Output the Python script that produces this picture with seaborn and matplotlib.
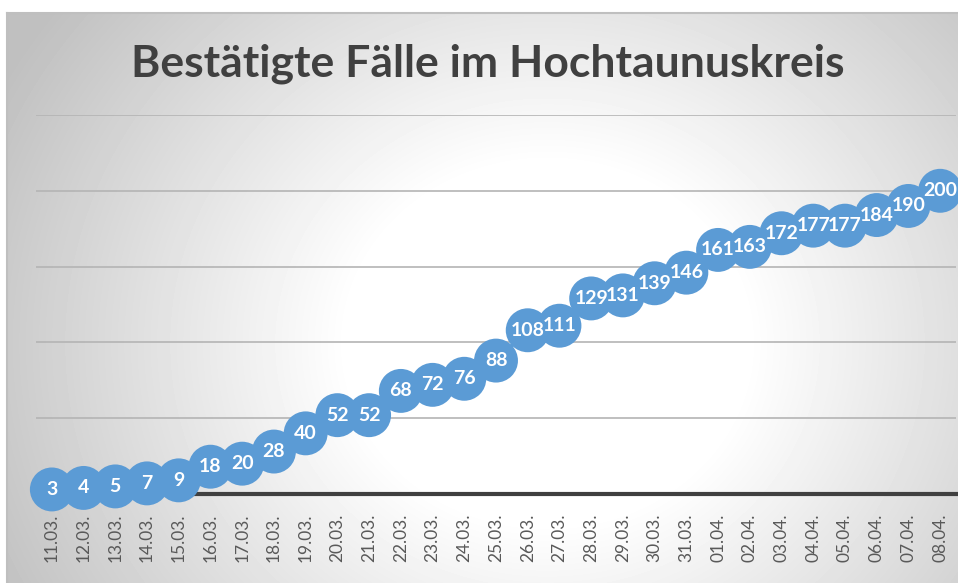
import numpy as np
import pandas as pd
import matplotlib
matplotlib.use('Agg')
import matplotlib.pyplot as plt
import seaborn as sns

# Daten
dates = ['11.03.', '12.03.', '13.03.', '14.03.', '15.03.', '16.03.', '17.03.', '18.03.',
         '19.03.', '20.03.', '21.03.', '22.03.', '23.03.', '24.03.', '25.03.', '26.03.',
         '27.03.', '28.03.', '29.03.', '30.03.', '31.03.', '01.04.', '02.04.', '03.04.',
         '04.04.', '05.04.', '06.04.', '07.04.', '08.04.']
cases = [3, 4, 5, 7, 9, 18, 20, 28, 40, 52, 52, 68, 72, 76, 88, 108, 111, 129, 131,
         139, 146, 161, 163, 172, 177, 177, 184, 190, 200]
title = 'Bestätigte Fälle im Hochtaunuskreis'

sns.set_style('white')
plt.rcParams['font.family'] = ['Lato', 'DejaVu Sans']

W, H = 958, 583
fig = plt.figure(figsize=(W / 100, H / 100), dpi=100)
fig.patch.set_facecolor('white')

# Hintergrund mit radialem Verlauf
bg = fig.add_axes([7 / W, 0, (W - 7) / W, (H - 13) / H])
yy, xx = np.mgrid[0:H - 13, 0:W - 7]
r = np.sqrt(((xx - 540) / 1.0) ** 2 + ((yy - 330) / 0.9) ** 2)
shade = np.clip((r - 200) / 420, 0, 1)
grey = 1.0 - 0.25 * shade
bg.imshow(grey, cmap='gray', vmin=0, vmax=1, aspect='auto', interpolation='bilinear')
bg.set_xticks([])
bg.set_yticks([])
for s in ['right', 'bottom']:
    bg.spines[s].set_visible(False)
for s in ['left', 'top']:
    bg.spines[s].set_color('#bfbfbf')
    bg.spines[s].set_linewidth(1.5)

fig.text(488 / W, 1 - 64 / H, title, ha='center', va='center', fontsize=32,
         fontweight='bold', color='#404040')

df = pd.DataFrame({'Datum': dates, 'Faelle': cases})

ax = fig.add_axes([36 / W, (H - 494) / H, (956 - 36) / W, (494 - 115) / H])
ax.patch.set_alpha(0)
sns.lineplot(data=df, x='Datum', y='Faelle', ax=ax, color='#5B9BD5', linewidth=2.5,
             sort=False, zorder=3)
sns.scatterplot(data=df, x='Datum', y='Faelle', ax=ax, color='#5B9BD5', s=1000,
                edgecolor='none', linewidth=0, zorder=4, clip_on=False)
for i, v in enumerate(cases):
    ax.text(i, v, str(v), ha='center', va='center', color='white', fontsize=14,
            fontweight='bold', zorder=5)

ax.set_xlim(-0.5, len(dates) - 0.5)
ax.set_ylim(0, 250)
ax.set_yticks([50, 100, 150, 200, 250])
ax.set_yticklabels([])
ax.yaxis.grid(True, color='#b4b4b4', linewidth=1.2)
ax.set_axisbelow(True)
ax.tick_params(axis='y', length=0)
ax.tick_params(axis='x', length=0, pad=14, labelrotation=90, labelsize=12.5,
               labelcolor='#595959')
ax.set_xlabel('')
ax.set_ylabel('')
for s in ['left', 'right', 'top']:
    ax.spines[s].set_visible(False)
ax.spines['bottom'].set_color('#404040')
ax.spines['bottom'].set_linewidth(3)
ax.spines['bottom'].set_zorder(2)

fig.savefig('out.png', dpi=100)
